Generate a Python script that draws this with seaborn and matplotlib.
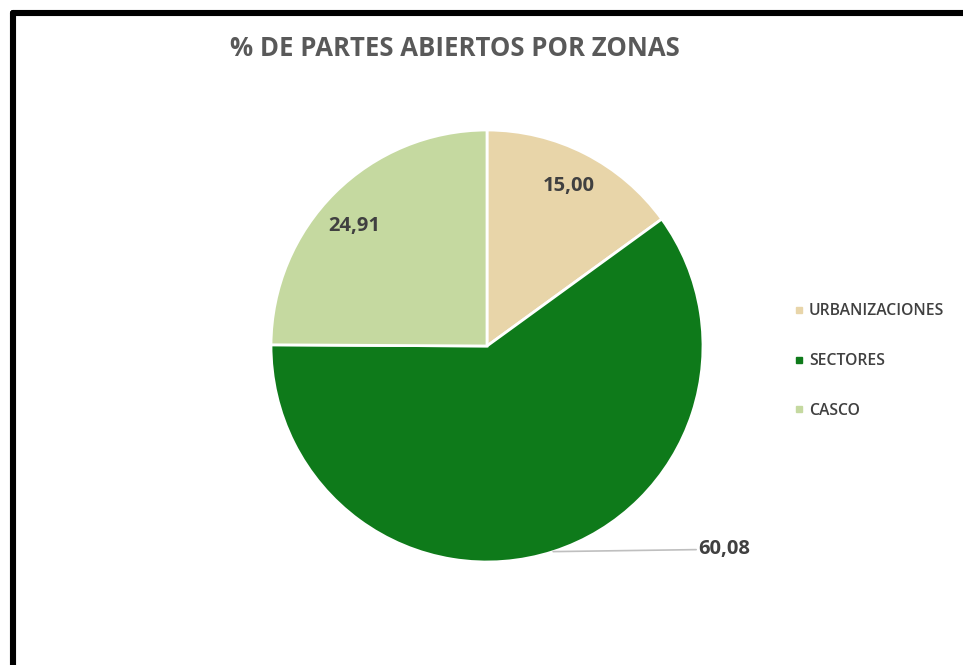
import numpy as np
import matplotlib
matplotlib.use("Agg")
import matplotlib.pyplot as plt
import seaborn as sns
from matplotlib.lines import Line2D

# ---- data ----
categories = ["URBANIZACIONES", "SECTORES", "CASCO"]
values = [15.00, 60.08, 24.91]
value_labels = ["15,00", "60,08", "24,91"]
title = "% DE PARTES ABIERTOS POR ZONAS"

sns.set_theme(style="white")
plt.rcParams["font.family"] = ["Open Sans", "DejaVu Sans"]
colors = sns.color_palette(["#E8D5A9", "#0E7A1A", "#C5D9A0"])

W, H = 963, 665
fig = plt.figure(figsize=(W / 100, H / 100), dpi=100)
ax = fig.add_axes([0, 0, 1, 1])

cx, cy, r = 487, H - 346, 216
wedges, _ = ax.pie(values, colors=colors, startangle=90, counterclock=False,
                   center=(cx, cy), radius=r, frame=True,
                   wedgeprops=dict(edgecolor="white", linewidth=2))
ax.set_xlim(0, W)
ax.set_ylim(0, H)
ax.set_aspect("equal")
ax.axis("off")

label_color = "#404040"
for w, lab in zip(wedges, value_labels):
    mid = np.deg2rad((w.theta1 + w.theta2) / 2)
    if lab == "60,08":
        ex, ey = cx + r * np.cos(mid), cy + r * np.sin(mid)
        ax.plot([ex, ex + 143], [ey, ey + 2], color="#BFBFBF", lw=1.2)
        ax.text(ex + 145, ey + 3, lab, ha="left", va="center", fontsize=14.5,
                fontweight="bold", color=label_color)
    else:
        d = 0.83 * r
        ang = mid + (np.deg2rad(3) if lab == "24,91" else 0)
        ax.text(cx + d * np.cos(ang), cy + d * np.sin(ang), lab, ha="center",
                va="center", fontsize=14.5, fontweight="bold", color=label_color)

ax.text(455, H - 49, title, ha="center", va="center", fontsize=18.5,
        fontweight="bold", color="#595959")

handles = [Line2D([0], [0], marker="s", linestyle="none", markersize=5,
                  markerfacecolor=c, markeredgecolor=c) for c in colors]
leg = ax.legend(handles, categories, loc="center left",
                bbox_to_anchor=(787 / W, 1 - 361 / H), frameon=False,
                prop=dict(size=11.3, weight="semibold"), labelspacing=2.15,
                handlelength=0.7, handletextpad=0.3, borderaxespad=0)
for t in leg.get_texts():
    t.set_color("#404040")

# partial black frame (top and left edges)
fig.add_artist(Line2D([13 / W, 1], [1 - 13 / H, 1 - 13 / H], color="black",
                      lw=4.4, transform=fig.transFigure, solid_capstyle="round"))
fig.add_artist(Line2D([13 / W, 13 / W], [1 - 13 / H, 0], color="black",
                      lw=4.4, transform=fig.transFigure, solid_capstyle="round"))

fig.savefig("out.png", dpi=100)
